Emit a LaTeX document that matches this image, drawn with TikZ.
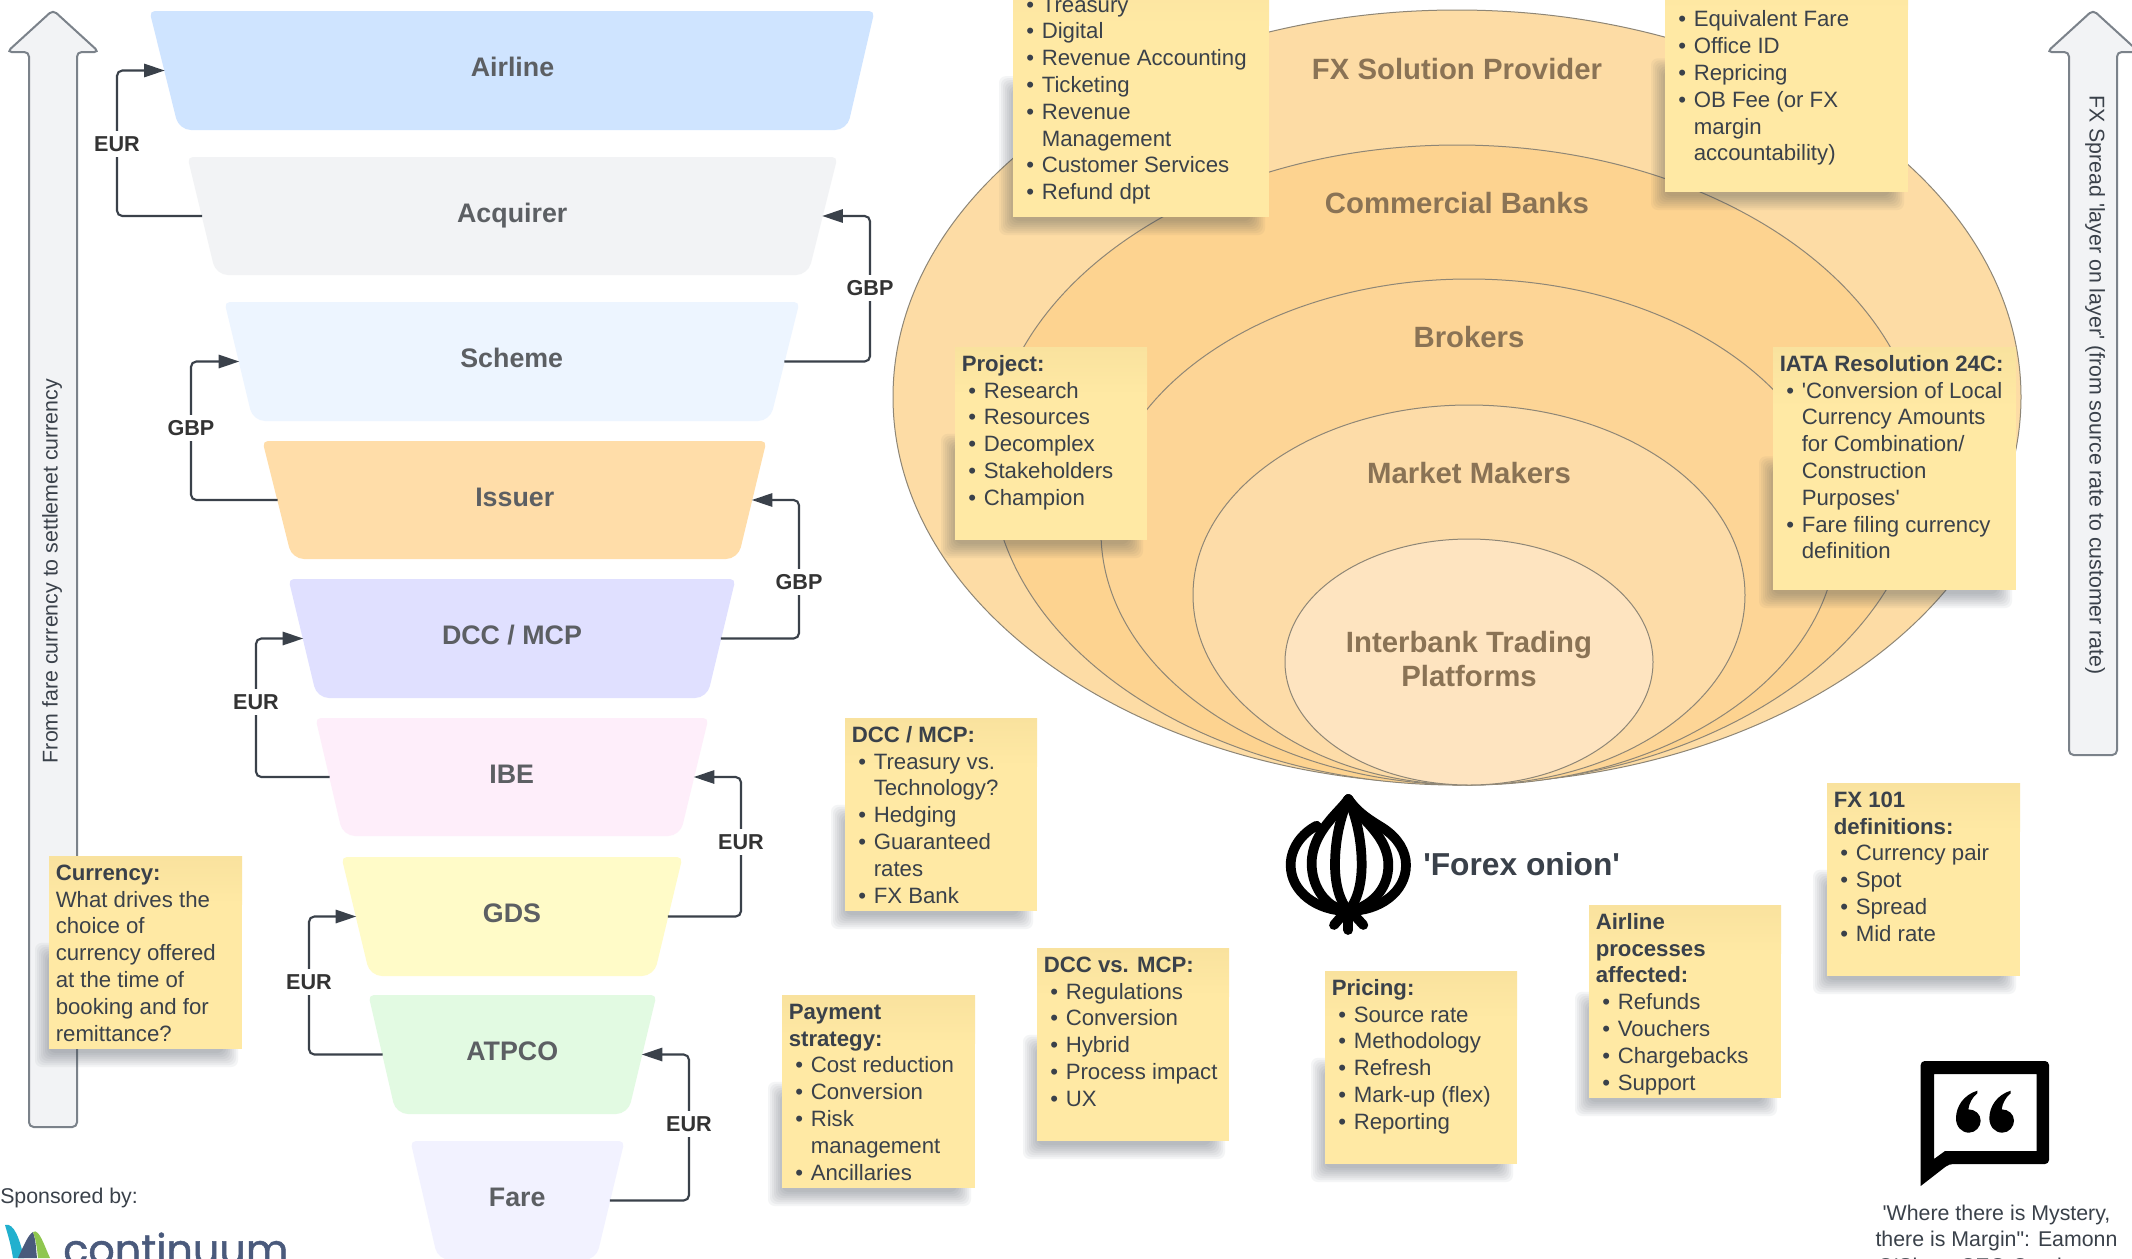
\documentclass[tikz,border=0pt]{standalone}
\usepackage{fontspec}
\setmainfont{Liberation Sans}[Ligatures=TeXOff]
\newfontfamily\logofont[FakeBold=1.2]{Poppins}
\usetikzlibrary{arrows.meta,calc}
\definecolor{ink}{HTML}{3A414A}
\definecolor{funneltext}{HTML}{5C5F63}
\definecolor{onionink}{HTML}{8A7355}
\definecolor{onionrim}{HTML}{8E8676}
\definecolor{stickytop}{HTML}{F9E29E}
\definecolor{stickybase}{HTML}{FFE9A4}
\definecolor{shadowink}{HTML}{3A4450}
\definecolor{bigfill}{HTML}{F2F3F5}
\definecolor{bigrim}{HTML}{7B828A}
\definecolor{fAirline}{HTML}{CFE4FF}
\definecolor{fAcquirer}{HTML}{F2F3F5}
\definecolor{fScheme}{HTML}{EDF5FF}
\definecolor{fIssuer}{HTML}{FFDDA9}
\definecolor{fDcc}{HTML}{E0E0FF}
\definecolor{fIbe}{HTML}{FEEEFA}
\definecolor{fGds}{HTML}{FFFBC8}
\definecolor{fAtpco}{HTML}{E2FAE2}
\definecolor{fFare}{HTML}{F2F2FF}
\definecolor{oOne}{HTML}{FDDCA5}
\definecolor{oTwo}{HTML}{FDD390}
\definecolor{oThree}{HTML}{FDD596}
\definecolor{oFour}{HTML}{FDDCA8}
\definecolor{oFive}{HTML}{FEE4C0}
\definecolor{logoslate}{HTML}{4A5A7C}
\definecolor{logoteal}{HTML}{22B0CE}
\definecolor{logogreen}{HTML}{8FC64F}
\tikzset{
  funnellabel/.style={font=\fontsize{20.1}{24}\selectfont\bfseries,text=funneltext,inner sep=0pt,text height=14pt,text depth=5pt},
  conn/.style={draw=ink,line width=1.6pt,rounded corners=4pt,-{Triangle[length=15.5pt,width=10pt]}},
  ccy/.style={fill=white,font=\fontsize{16.2}{19}\selectfont\bfseries,text=black!80,inner xsep=1.5pt,inner ysep=4pt,text height=11.5pt,text depth=0pt},
  onion/.style={draw=onionrim,line width=0.75pt},
  onionlabel/.style={font=\fontsize{22}{25.8}\selectfont\bfseries,text=onionink,align=center,inner sep=0pt},
  bodytext/.style={font=\fontsize{16.65}{20.1}\selectfont,text=ink,inner sep=0pt,align=left},
  sidetext/.style={font=\fontsize{16}{20.1}\selectfont,text=ink,inner sep=0pt,align=center},
  bigarrow/.style={fill=bigfill,draw=bigrim,line width=1.5pt,rounded corners=3.5pt},
  icon/.style={draw=black,line width=7.3pt,line cap=round,line join=round},
}
\newcommand\bi{\makebox[16.5pt][l]{\hspace*{5pt}•}}
\newcommand\ci{\hspace*{16.5pt}}
\newcommand\funnel[9]{%
  \fill[#8,rounded corners=4pt] ({#2-1.5},#6) -- ({#3+1.5},#6) [rounded corners=9pt] -- (#5,#7) -- (#4,#7) [rounded corners=4pt] -- cycle;
  \pgfmathsetmacro\fw{((#3+#5)-(#2+#4))/2*0.75}
  \pgfmathsetmacro\fh{(#7-#6)*0.75}
  \node[funnellabel,minimum width=\fw pt,minimum height=\fh pt] (#1) at ({(#2+#3+#4+#5)/4},{(#6+#7)/2}) {#9};
}
\newcommand\sticky[6]{%
  \foreach \i in {0,...,7}{
    \fill[shadowink,opacity=.05,rounded corners=5pt] ({#2-14+2*\i},{#3+.45*#5+2*\i}) rectangle ({#2+#4-4-2*\i},{#3+#5+18-2*\i});
  }
  \fill[stickybase] (#2,#3) rectangle ({#2+#4},{#3+#5});
  \shade[top color=stickytop,bottom color=stickybase] (#2,#3) rectangle ({#2+#4},{#3+.25*#5});
  \node[bodytext,anchor=north west] (#1) at ({#2+6.5},{#3+5.2}) {\strut #6};
}
\begin{document}
\begin{tikzpicture}[x=0.75pt,y=-0.75pt]
\useasboundingbox (0,0) rectangle (2132,1258);
\clip (0,0) rectangle (2132,1258);
\fill[white] (0,0) rectangle (2132,1258);

% big arrows
\draw[bigarrow] (53,10) -- (99,52) -- (77,52) -- (77,1127) -- (29,1127) -- (29,52) -- (7,52) -- cycle;
\node[sidetext,rotate=90] (leftarrowtext) at (52,571) {From fare currency to settlemet currency};
\draw[bigarrow] (2093,10) -- (2139,52) -- (2117,52) -- (2117,755) -- (2069,755) -- (2069,52) -- (2047,52) -- cycle;
\node[sidetext,rotate=-90] (rightarrowtext) at (2095,385) {FX Spread 'layer on layer' (from source rate to customer rate)};

% onion
\draw[onion,fill=oOne] (1457,397) ellipse [x radius=564,y radius=387];
\draw[onion,fill=oTwo] (1457,465) ellipse [x radius=466,y radius=320];
\draw[onion,fill=oThree] (1469,532) ellipse [x radius=368,y radius=253];
\draw[onion,fill=oFour] (1469,595) ellipse [x radius=276,y radius=190];
\draw[onion,fill=oFive] (1469,662) ellipse [x radius=184,y radius=123];
\node[onionlabel,anchor=base] (lfx) at (1457,79) {FX Solution Provider};
\node[onionlabel,anchor=base] (lbank) at (1457,213) {Commercial Banks};
\node[onionlabel,anchor=base] (lbroker) at (1469,347.5) {Brokers};
\node[onionlabel,anchor=base] (lmm) at (1469,483) {Market Makers};
\node[onionlabel] (lib) at (1469,659) {Interbank Trading\\Platforms};

% funnel
\funnel{airline}{151}{873}{179}{847}{11}{130}{fAirline}{Airline}
\funnel{acquirer}{189}{836}{216}{808}{157}{275}{fAcquirer}{Acquirer}
\funnel{scheme}{226}{798}{253}{770}{302}{421}{fScheme}{Scheme}
\funnel{issuer}{264}{765}{292}{738}{441}{559}{fIssuer}{Issuer}
\funnel{dcc}{290}{734}{317}{707}{579}{698}{fDcc}{DCC / MCP}
\funnel{ibe}{317}{707}{343}{680}{718}{836}{fIbe}{IBE}
\funnel{gds}{343}{681}{370}{654}{857}{976}{fGds}{GDS}
\funnel{atpco}{370}{655}{396}{628}{995}{1114}{fAtpco}{ATPCO}
\funnel{fare}{412}{623}{438}{596}{1141}{1260}{fFare}{Fare}

% connectors
\coordinate (m1) at (117,144);
\coordinate (m2) at (870,288);
\coordinate (m3) at (191,428);
\coordinate (m4) at (799,582);
\coordinate (m5) at (256,702);
\coordinate (m6) at (741,842);
\coordinate (m7) at (309,982);
\coordinate (m8) at (689,1124);
\draw[conn] (acquirer.west) -| (m1) |- (airline.west);
\draw[conn] (scheme.east) -| (m2) |- (acquirer.east);
\draw[conn] (issuer.west) -| (m3) |- (scheme.west);
\draw[conn] (dcc.east) -| (m4) |- (issuer.east);
\draw[conn] (ibe.west) -| (m5) |- (dcc.west);
\draw[conn] (gds.east) -| (m6) |- (ibe.east);
\draw[conn] (atpco.west) -| (m7) |- (gds.west);
\draw[conn] (fare.east) -| (m8) |- (atpco.east);
\node[ccy] (c1) at (m1) {EUR};
\node[ccy] (c2) at (m2) {GBP};
\node[ccy] (c3) at (m3) {GBP};
\node[ccy] (c4) at (m4) {GBP};
\node[ccy] (c5) at (m5) {EUR};
\node[ccy] (c6) at (m6) {EUR};
\node[ccy] (c7) at (m7) {EUR};
\node[ccy] (c8) at (m8) {EUR};

% sticky notes
\sticky{sTreasury}{1013}{-39}{256}{256}{\\\bi Treasury\\\bi Digital\\\bi Revenue Accounting\\\bi Ticketing\\\bi Revenue\\\ci Management\\\bi Customer Services\\\bi Refund dpt}
\sticky{sFares}{1665}{-51}{243}{243}{\\\mbox{}\\\bi Equivalent Fare\\\bi Office ID\\\bi Repricing\\\bi OB Fee (or FX\\\ci margin\\\ci accountability)}
\sticky{sProject}{955}{347}{192}{193}{\textbf{Project:}\\\bi Research\\\bi Resources\\\bi Decomplex\\\bi Stakeholders\\\bi Champion}
\sticky{sIata}{1773}{347}{243}{243}{\textbf{IATA Resolution 24C:}\\\bi 'Conversion of Local\\\ci Currency Amounts\\\ci for Combination/\\\ci Construction\\\ci Purposes'\\\bi Fare filing currency\\\ci definition}
\sticky{sDcc}{845}{718}{192}{193}{\textbf{DCC / MCP:}\\\bi Treasury vs.\\\ci Technology?\\\bi Hedging\\\bi Guaranteed\\\ci rates\\\bi FX Bank}
\sticky{sPayment}{782}{995}{193}{193}{\textbf{Payment}\\\textbf{strategy:}\\\bi Cost reduction\\\bi Conversion\\\bi Risk\\\ci management\\\bi Ancillaries}
\sticky{sVs}{1037}{948}{192}{193}{\textbf{DCC vs. MCP:}\\\bi Regulations\\\bi Conversion\\\bi Hybrid\\\bi Process impact\\\bi UX}
\sticky{sPricing}{1325}{971}{192}{193}{\textbf{Pricing:}\\\bi Source rate\\\bi Methodology\\\bi Refresh\\\bi Mark-up (flex)\\\bi Reporting}
\sticky{sAirline}{1589}{905}{192}{193}{\textbf{Airline}\\\textbf{processes}\\\textbf{affected:}\\\bi Refunds\\\bi Vouchers\\\bi Chargebacks\\\bi Support}
\sticky{sFx}{1827}{783}{193}{193}{\textbf{FX 101}\\\textbf{definitions:}\\\bi Currency pair\\\bi Spot\\\bi Spread\\\bi Mid rate}
\sticky{sCurrency}{49}{856}{193}{193}{\textbf{Currency:}\\What drives the\\choice of\\currency offered\\at the time of\\booking and for\\remittance?}

% forex onion icon
\begin{scope}[shift={(1270,785)},x=0.25pt,y=-0.25pt]
  \draw[icon] (235,42) .. controls (265,85) and (300,105) .. (340,130) .. controls (385,160) and (408,200) .. (408,240) .. controls (408,320) and (330,378) .. (235,378) .. controls (140,378) and (62,320) .. (62,240) .. controls (62,190) and (95,145) .. (140,122);
  \draw[icon] (235,42) .. controls (210,80) and (125,140) .. (125,235) .. controls (125,300) and (160,350) .. (200,368);
  \draw[icon] (250,70) .. controls (300,120) and (355,170) .. (355,240) .. controls (355,310) and (310,350) .. (270,368);
  \draw[icon] (235,42) .. controls (205,110) and (195,180) .. (195,240) .. controls (195,300) and (210,350) .. (235,378);
  \draw[icon] (235,42) .. controls (265,110) and (275,180) .. (275,240) .. controls (275,300) and (260,350) .. (235,378);
  \draw[icon] (235,378) -- (235,435);
  \draw[icon] (222,385) -- (192,420);
  \draw[icon] (248,385) -- (280,420);
\end{scope}
\node[font=\fontsize{23.8}{28}\selectfont\bfseries,text=ink,inner sep=0pt,anchor=base west] (forex) at (1423,875) {'Forex onion'};

% quote icon
\begin{scope}[shift={(1900,1050)},x=0.25pt,y=-0.25pt]
  \fill[black,even odd rule,rounded corners=3pt] (62,33) -- (447,33) -- (447,342) -- (147,342) [sharp corners] -- (62,408) -- (62,200) [rounded corners=3pt] -- cycle
    [sharp corners] (102,72) -- (410,72) -- (410,303) -- (135,303) -- (102,327) -- cycle;
  \foreach \dx in {0,100}{
    \fill[black,shift={(\dx,0)}] (232,122) .. controls (190,135) and (168,170) .. (168,205) .. controls (168,230) and (185,248) .. (207,248) .. controls (227,248) and (242,230) .. (242,212) .. controls (242,192) and (225,178) .. (205,178) .. controls (207,160) and (218,140) .. (232,130) -- cycle;
  }
\end{scope}
\node[sidetext,anchor=north] (quote) at (1996.5,1201) {\strut 'Where there is Mystery,\\there is Margin": Eamonn\\O'Shea, CEO Continuum};

% sponsor
\node[sidetext,anchor=base west] (sponsor) at (0,1203) {Sponsored by:};
\fill[logoteal] (5,1225) .. controls (14,1222) and (20,1240) .. (24,1258) -- (13,1258) .. controls (11,1245) and (8,1235) .. (5,1225) -- cycle;
\fill[logoslate] (18,1258) .. controls (24,1245) and (28,1235) .. (33,1232) .. controls (36,1240) and (36,1250) .. (37,1258) -- cycle;
\fill[logogreen] (33,1232) .. controls (39,1228) and (44,1245) .. (50,1258) -- (38,1258) .. controls (37,1248) and (36,1240) .. (33,1232) -- cycle;
\node[inner sep=0pt,anchor=base west,text=logoslate,font=\logofont\fontsize{31}{36}\selectfont] (logo) at (63,1264) {continuum};
\end{tikzpicture}
\end{document}
